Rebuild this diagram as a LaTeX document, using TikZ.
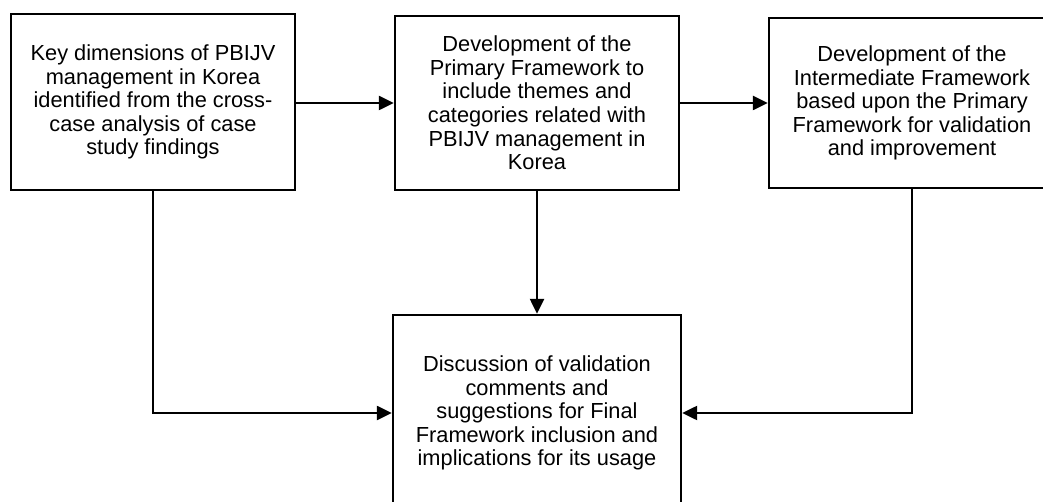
\documentclass[tikz,border=0pt]{standalone}
\usepackage{fontspec}
\setmainfont{Liberation Sans}
\usetikzlibrary{arrows.meta}
\begin{document}
\begin{tikzpicture}[x=1pt,y=-1pt,
  stagebox/.style={draw=black, line width=2.4pt, inner sep=0pt, align=center,
    font=\fontsize{21.8}{23.6}\selectfont},
  flow/.style={line width=2.4pt, -{Triangle[length=15pt,width=14pt]}}]
\useasboundingbox (0,0) rectangle (1043,502);
% the four stages
\node[stagebox, minimum width=284pt, minimum height=176pt] (dims) at (153,102)
  {Key dimensions of PBIJV\\management in Korea\\identified from the cross-\\case analysis of case\\study findings};
\node[stagebox, minimum width=284pt, minimum height=174pt] (primary) at (537,103)
  {Development of the\\Primary Framework to\\include themes and\\categories related with\\PBIJV management in\\Korea};
\node[stagebox, minimum width=286pt, minimum height=170pt] (inter) at (912,103)
  {Development of the\\Intermediate Framework\\based upon the Primary\\Framework for validation\\and improvement};
\node[stagebox, minimum width=288pt, minimum height=196pt] (final) at (537,413)
  {Discussion of validation\\comments and\\suggestions for Final\\Framework inclusion and\\implications for its usage};
% connectors
\draw[flow] (dims.east |- primary.west) -- (primary.west);
\draw[flow] (primary.east) -- (inter.west);
\draw[flow] (primary.south) -- (final.north);
\draw[flow] (dims.south) |- (final.west);
\draw[flow] (inter.south) |- (final.east);
\end{tikzpicture}
\end{document}
